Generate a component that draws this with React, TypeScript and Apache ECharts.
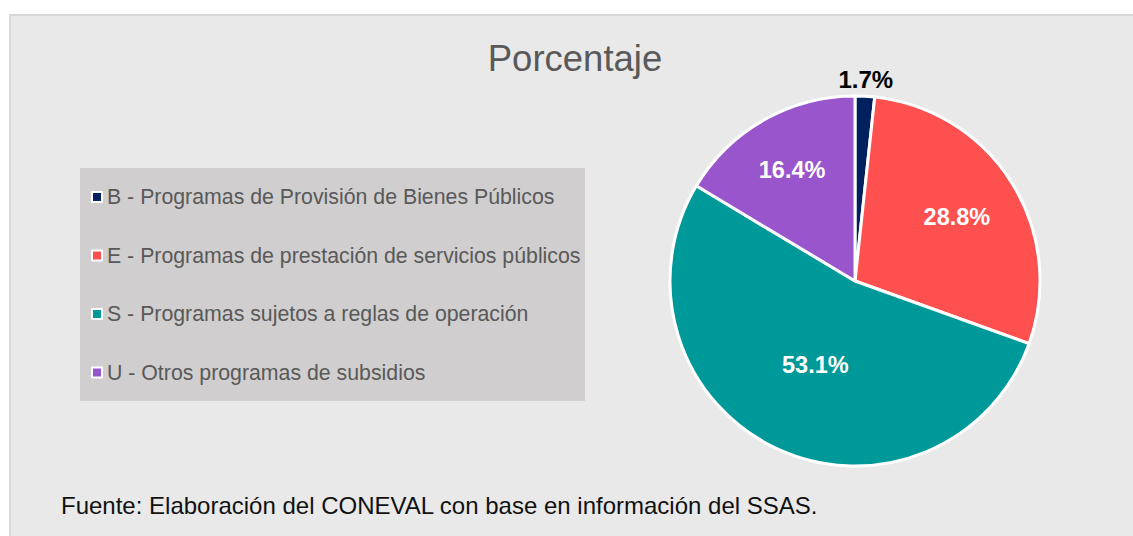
import React, { useEffect, useRef } from "react";
import * as echarts from "echarts";

const categories = [
  "B - Programas de Provisión de Bienes Públicos",
  "E - Programas de prestación de servicios públicos",
  "S - Programas sujetos a reglas de operación",
  "U - Otros programas de subsidios",
];
const values = [1.7, 28.8, 53.1, 16.4];
const colors = ["#002060", "#ff5050", "#009999", "#9955cc"];
const labelColors = ["#000000", "#ffffff", "#ffffff", "#ffffff"];
const labelRadiusRatio = [1.09, 0.65, 0.5, 0.69];
const titleText = "Porcentaje";
const sourceText = "Fuente: Elaboración del CONEVAL con base en información del SSAS.";

const CX = 855;
const CY = 281;
const R = 185;
const FONT = "'Liberation Sans', Arial, sans-serif";

export default function App() {
  const ref = useRef<HTMLDivElement>(null);
  useEffect(() => {
    if (!ref.current) return;
    const chart = echarts.init(ref.current, null, { renderer: "svg" });
    const total = values.reduce((a, b) => a + b, 0);
    chart.setOption({
      animation: false,
      backgroundColor: "#ffffff",
      graphic: [
        {
          type: "rect",
          z: -10,
          shape: { x: 10, y: 15, width: 1140, height: 540 },
          style: { fill: "#e9e9e9", stroke: "#d8d8d8", lineWidth: 2 },
        },
        {
          type: "rect",
          z: -9,
          shape: { x: 80, y: 168, width: 505, height: 233 },
          style: { fill: "#d0cece" },
        },
        {
          type: "text",
          x: 575,
          y: 58,
          style: {
            text: titleText,
            fontSize: 36.5,
            fontFamily: FONT,
            fill: "#595959",
            align: "center",
            verticalAlign: "middle",
          },
        },
        {
          type: "text",
          x: 61,
          y: 505,
          style: {
            text: sourceText,
            fontSize: 24,
            fontFamily: FONT,
            fill: "#111111",
            align: "left",
            verticalAlign: "middle",
          },
        },
      ],
      legend: {
        orient: "vertical",
        left: 91,
        top: 185,
        padding: 0,
        itemWidth: 10,
        itemHeight: 10,
        itemGap: 34.5,
        icon: "rect",
        itemStyle: { borderColor: "#ffffff", borderWidth: 2 },
        textStyle: { fontSize: 21.3, fontFamily: FONT, color: "#595959", lineHeight: 24 },
        data: categories,
      },
      series: [
        {
          type: "pie",
          center: [CX, CY],
          radius: R,
          startAngle: 90,
          clockwise: true,
          avoidLabelOverlap: false,
          itemStyle: { borderColor: "#ffffff", borderWidth: 3 },
          label: {
            show: true,
            position: "inside",
            formatter: (p: any) => p.value.toFixed(1) + "%",
            fontSize: 23.5,
            fontWeight: "bold",
            fontFamily: FONT,
          },
          labelLine: { show: false },
          labelLayout: (params: any) => {
            const i = params.dataIndex;
            let cum = 0;
            for (let k = 0; k < i; k++) cum += values[k];
            const mid = ((90 - ((cum + values[i] / 2) / total) * 360) * Math.PI) / 180;
            const r = R * labelRadiusRatio[i];
            return {
              x: CX + r * Math.cos(mid),
              y: CY - r * Math.sin(mid),
              align: "center",
              verticalAlign: "middle",
            };
          },
          data: categories.map((name, i) => ({
            name,
            value: values[i],
            itemStyle: { color: colors[i] },
            label: { color: labelColors[i], fontSize: i === 0 ? 24 : 23.5 },
          })),
        },
      ],
    });
    return () => chart.dispose();
  }, []);
  return (
    <div
      ref={ref}
      style={{ position: "absolute", left: 0, top: 0, width: 1133, height: 536 }}
    />
  );
}
